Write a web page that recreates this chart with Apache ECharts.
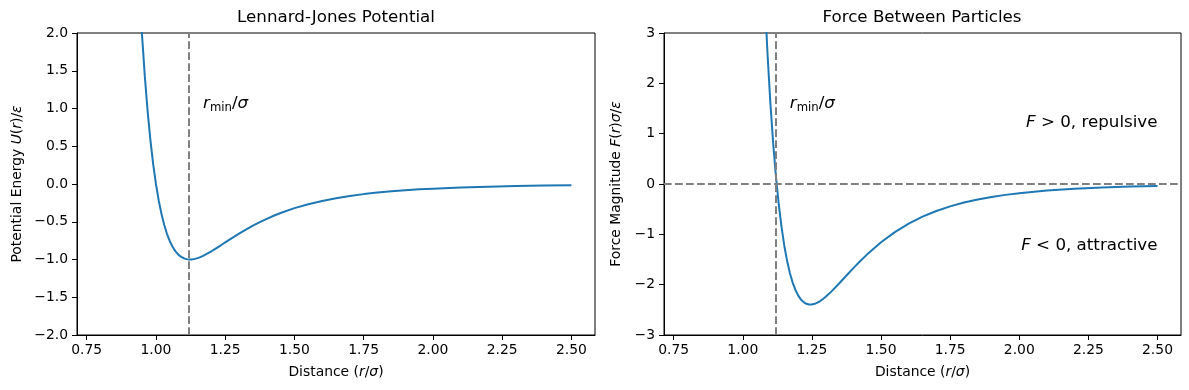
<!DOCTYPE html>
<html><head><meta charset="utf-8">
<script src="https://cdn.jsdelivr.net/npm/echarts@6/dist/echarts.min.js"></script>
<style>html,body{margin:0;padding:0;background:#fff}#c{width:1189px;height:390px}</style>
</head><body><div id="c"></div>
<script>
// Distance r/sigma (sample points)
const rValues = [0.80, 0.90, 0.92, 0.94, 0.95, 0.96, 0.97, 0.98, 0.99, 1.00, 1.01, 1.02, 1.03, 1.04, 1.05, 1.06, 1.07, 1.08, 1.09, 1.10, 1.11, 1.12, 1.13, 1.14, 1.15, 1.16, 1.17, 1.18, 1.19, 1.20, 1.21, 1.22, 1.23, 1.24, 1.25, 1.26, 1.27, 1.28, 1.29, 1.30, 1.32, 1.35, 1.375, 1.40, 1.425, 1.45, 1.50, 1.55, 1.60, 1.65, 1.70, 1.75, 1.80, 1.85, 1.90, 1.95, 2.00, 2.10, 2.20, 2.30, 2.40, 2.50];
// Potential energy U(r)/epsilon
const potentialValues = [42.95, 6.636, 4.283, 2.607, 1.961, 1.418, 0.963, 0.582, 0.264, 0.0, -0.218, -0.398, -0.544, -0.663, -0.758, -0.832, -0.889, -0.932, -0.963, -0.983, -0.995, -0.9998, -0.9985, -0.992, -0.982, -0.968, -0.952, -0.933, -0.913, -0.891, -0.868, -0.845, -0.822, -0.798, -0.774, -0.750, -0.726, -0.703, -0.680, -0.657, -0.613, -0.552, -0.504, -0.461, -0.421, -0.384, -0.320, -0.268, -0.224, -0.188, -0.159, -0.134, -0.114, -0.097, -0.083, -0.071, -0.062, -0.046, -0.035, -0.027, -0.021, -0.016];
// Force F(r) sigma/epsilon
const forceValues = [758.7, 138.66, 98.88, 70.29, 59.14, 49.67, 41.61, 34.77, 28.95, 24.0, 19.79, 16.21, 13.17, 10.59, 8.399, 6.543, 4.972, 3.646, 2.528, 1.588, 0.801, 0.144, -0.402, -0.852, -1.221, -1.521, -1.762, -1.953, -2.100, -2.212, -2.293, -2.347, -2.380, -2.395, -2.394, -2.381, -2.357, -2.325, -2.285, -2.240, -2.138, -1.967, -1.818, -1.672, -1.531, -1.398, -1.158, -0.956, -0.788, -0.649, -0.536, -0.444, -0.369, -0.308, -0.257, -0.216, -0.182, -0.130, -0.095, -0.070, -0.052, -0.039];
const xTicks = [0.75, 1.00, 1.25, 1.50, 1.75, 2.00, 2.25, 2.50];
const rMin = 1.1225;
const titles = ['Lennard-Jones Potential', 'Force Between Particles'];

const FONT = 'DejaVu Sans';
const BLUE = '#1f77b4';
const GRAY = '#808080';
const minus = s => s.replace('-', '\u2212');

const richBase = {
  n: {fontFamily: FONT, fontSize: 16.7, color: '#000', lineHeight: 20},
  i: {fontFamily: FONT, fontSize: 16.7, fontStyle: 'italic', color: '#000', lineHeight: 20},
  s: {fontFamily: FONT, fontSize: 11.7, color: '#000', lineHeight: 12, verticalAlign: 'bottom'}
};
const nameRich = {
  n: {fontFamily: FONT, fontSize: 13.9, color: '#000'},
  i: {fontFamily: FONT, fontSize: 13.9, fontStyle: 'italic', color: '#000'}
};

function annot(x, y, text, align) {
  return {
    coord: [x, y], symbolSize: 0,
    label: {show: true, position: [0, 0], align: align, verticalAlign: 'bottom', offset: [0, 5],
      formatter: text, rich: richBase}
  };
}

function xAxis(gi) {
  return {
    type: 'value', gridIndex: gi, min: 0.715, max: 2.585,
    name: '{n|Distance (}{i|r}{n|/}{i|σ}{n|)}', nameLocation: 'middle', nameGap: 30,
    nameTextStyle: {rich: nameRich},
    axisLine: {show: true, onZero: false, lineStyle: {color: '#000', width: 1}},
    axisTick: {show: true, length: 5, customValues: xTicks, lineStyle: {color: '#000', width: 1}},
    axisLabel: {customValues: xTicks, formatter: v => v.toFixed(2), fontFamily: FONT, fontSize: 13.9, color: '#000', margin: 8},
    splitLine: {show: false}
  };
}

const chart = echarts.init(document.getElementById('c'), null, {renderer: 'canvas'});
chart.setOption({
  animation: false,
  backgroundColor: '#fff',
  graphic: [
    {type: 'text', x: 336, y: 18, style: {text: titles[0], font: '16.7px "DejaVu Sans"', fill: '#000', textAlign: 'center', textVerticalAlign: 'middle'}},
    {type: 'text', x: 922, y: 18, style: {text: titles[1], font: '16.7px "DejaVu Sans"', fill: '#000', textAlign: 'center', textVerticalAlign: 'middle'}}
  ],
  grid: [
    {left: 77, top: 33, width: 518, height: 302, show: true, borderColor: '#000', borderWidth: 1, containLabel: false},
    {left: 664, top: 33, width: 517, height: 302, show: true, borderColor: '#000', borderWidth: 1, containLabel: false}
  ],
  xAxis: [xAxis(0), xAxis(1)],
  yAxis: [
    {type: 'value', gridIndex: 0, min: -2, max: 2, interval: 0.5,
      name: '{n|Potential Energy }{i|U}{n|(}{i|r}{n|)/}{i|ε}', nameLocation: 'middle', nameRotate: 90, nameGap: 53,
      nameTextStyle: {rich: nameRich},
      axisLine: {show: true, onZero: false, lineStyle: {color: '#000', width: 1}},
      axisTick: {show: true, length: 5, lineStyle: {color: '#000', width: 1}},
      axisLabel: {formatter: v => minus(v.toFixed(1)), fontFamily: FONT, fontSize: 13.9, color: '#000', margin: 9},
      splitLine: {show: false}},
    {type: 'value', gridIndex: 1, min: -3, max: 3, interval: 1,
      name: '{n|Force Magnitude }{i|F}{n|(}{i|r}{n|)}{i|σ}{n|/}{i|ε}', nameLocation: 'middle', nameRotate: 90, nameGap: 41,
      nameTextStyle: {rich: nameRich},
      axisLine: {show: true, onZero: false, lineStyle: {color: '#000', width: 1}},
      axisTick: {show: true, length: 5, lineStyle: {color: '#000', width: 1}},
      axisLabel: {formatter: v => minus(String(v)), fontFamily: FONT, fontSize: 13.9, color: '#000', margin: 9},
      splitLine: {show: false}}
  ],
  series: [
    {type: 'line', xAxisIndex: 0, yAxisIndex: 0, showSymbol: false, clip: true,
      data: rValues.map((r, i) => [r, potentialValues[i]]),
      lineStyle: {color: BLUE, width: 2}, itemStyle: {color: BLUE},
      markLine: {silent: true, symbol: ['none', 'none'], label: {show: false},
        lineStyle: {color: GRAY, type: [7.7, 3.3], width: 2},
        data: [{xAxis: rMin}]},
      markPoint: {silent: true, data: [annot(1.17, 1.0, '{i|r}{s|min}{n|/}{i|σ}', 'left')]}},
    {type: 'line', xAxisIndex: 1, yAxisIndex: 1, showSymbol: false, clip: true,
      data: rValues.map((r, i) => [r, forceValues[i]]),
      lineStyle: {color: BLUE, width: 2}, itemStyle: {color: BLUE},
      markLine: {silent: true, symbol: ['none', 'none'], label: {show: false},
        lineStyle: {color: GRAY, type: [7.7, 3.3], width: 2},
        data: [{xAxis: rMin}, {yAxis: 0}]},
      markPoint: {silent: true, data: [
        annot(1.17, 1.5, '{i|r}{s|min}{n|/}{i|σ}', 'left'),
        annot(2.5, 1.12, '{i|F}{n| > 0, repulsive}', 'right'),
        annot(2.5, -1.32, '{i|F}{n| < 0, attractive}', 'right')
      ]}}
  ]
});
</script>
</body></html>
